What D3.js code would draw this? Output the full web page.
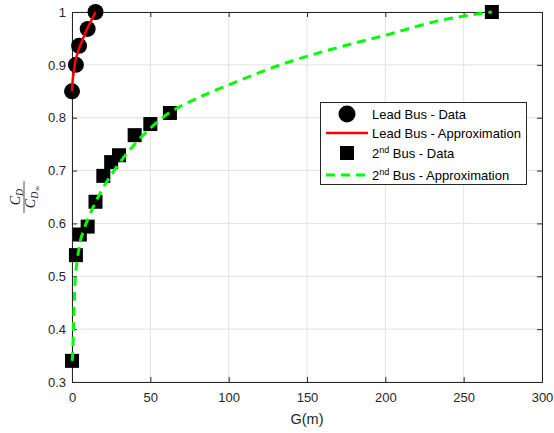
<!DOCTYPE html>
<html>
<head>
    <meta charset="utf-8">
    <style>
        body { margin: 0; background: #fff; }
        svg { font-family: "Liberation Sans", Arial, sans-serif; }
        .tick text { font-size: 13px; fill: #262626; }
        .tick line { stroke: #262626; }
        .grid line { stroke: #e3e3e3; stroke-width: 1; }
        .legend text { font-size: 13px; fill: #000; }
    </style>
</head>
<body>
<svg width="554" height="433"></svg>

<script src="https://d3js.org/d3.v7.min.js"></script>
<script>
    // lead bus, measured points
    let leadG = [0, 2.5, 4.5, 10, 15]
    let leadCd = [0.85, 0.90, 0.936, 0.968, 1.0]

    // lead bus, fitted curve
    let leadFitG = [0, 0.5, 1, 1.9, 2.5, 3.5, 5, 7.5, 9.8, 12.5, 14.5, 15]
    let leadFitCd = [0.85, 0.872, 0.884, 0.903, 0.911, 0.922, 0.935, 0.953, 0.969, 0.985, 0.997, 1.0]

    // 2nd bus, measured points
    let secG = [0, 2.5, 5, 10, 15, 20, 25, 30, 40, 50, 62.5, 268]
    let secCd = [0.34, 0.54, 0.579, 0.594, 0.641, 0.69, 0.716, 0.729, 0.767, 0.788, 0.809, 1.0]

    // 2nd bus, fitted curve
    let secFitG = [0, 0.4, 0.9, 1.9, 3.4, 5, 7.5, 10, 15, 20, 25, 30, 40, 50, 62.5, 75, 100, 133, 170, 200, 235, 268]
    let secFitCd = [0.34, 0.351, 0.398, 0.487, 0.531, 0.562, 0.588, 0.607, 0.64, 0.668, 0.692, 0.713, 0.75, 0.78, 0.81, 0.83, 0.862, 0.9, 0.933, 0.956, 0.984, 1.0]

    let xTicks = [0, 50, 100, 150, 200, 250, 300]
    let yTicks = [0.3, 0.4, 0.5, 0.6, 0.7, 0.8, 0.9, 1]

    let margin = { top: 12, right: 12, bottom: 51, left: 72 }
    let width = 554
    let height = 433

    let svg = d3.select("svg")

    let x = d3.scaleLinear()
        .domain([0, 300])
        .range([margin.left, width - margin.right])

    let y = d3.scaleLinear()
        .domain([0.3, 1])
        .range([height - margin.bottom, margin.top])

    let zip = (a, b) => a.map((v, i) => [v, b[i]])

    // grid
    let grid = svg.append("g").attr("class", "grid")
    grid.selectAll(".gx")
        .data(xTicks)
        .join("line")
        .attr("x1", d => x(d)).attr("x2", d => x(d))
        .attr("y1", y(0.3)).attr("y2", y(1))
    grid.selectAll(".gy")
        .data(yTicks)
        .join("line")
        .attr("x1", x(0)).attr("x2", x(300))
        .attr("y1", d => y(d)).attr("y2", d => y(d))

    // axes, ticks inward like matlab
    svg.append("g")
        .attr("transform", `translate(0,${y(0.3)})`)
        .call(d3.axisBottom(x).tickValues(xTicks).tickSize(-5).tickPadding(11))
        .call(g => g.select(".domain").attr("stroke", "#262626"))

    svg.append("g")
        .attr("transform", `translate(0,${y(1)})`)
        .call(d3.axisTop(x).tickValues(xTicks).tickSize(-5).tickFormat(""))
        .call(g => g.select(".domain").attr("stroke", "#262626"))

    svg.append("g")
        .attr("transform", `translate(${x(0)},0)`)
        .call(d3.axisLeft(y).tickValues(yTicks).tickSize(-5).tickPadding(6).tickFormat(d3.format("")))
        .call(g => g.select(".domain").attr("stroke", "#262626"))

    svg.append("g")
        .attr("transform", `translate(${x(300)},0)`)
        .call(d3.axisRight(y).tickValues(yTicks).tickSize(-5).tickFormat(""))
        .call(g => g.select(".domain").attr("stroke", "#262626"))

    let line = d3.line()
        .x(d => x(d[0]))
        .y(d => y(d[1]))
        .curve(d3.curveMonotoneX)

    // lead bus
    svg.append("g")
        .selectAll("circle")
        .data(zip(leadG, leadCd))
        .join("circle")
        .attr("cx", d => x(d[0]))
        .attr("cy", d => y(d[1]))
        .attr("r", 8)
        .attr("fill", "#000")

    svg.append("path")
        .datum(zip(leadFitG, leadFitCd))
        .attr("fill", "none")
        .attr("stroke", "#ff0000")
        .attr("stroke-width", 2.5)
        .attr("d", line)

    // 2nd bus
    svg.append("g")
        .selectAll("rect")
        .data(zip(secG, secCd))
        .join("rect")
        .attr("x", d => x(d[0]) - 7)
        .attr("y", d => y(d[1]) - 7)
        .attr("width", 14)
        .attr("height", 14)
        .attr("fill", "#000")

    svg.append("path")
        .datum(zip(secFitG, secFitCd))
        .attr("fill", "none")
        .attr("stroke", "#00ff00")
        .attr("stroke-width", 3)
        .attr("stroke-dasharray", "9,6")
        .attr("d", line)

    // x label
    svg.append("text")
        .attr("x", (x(0) + x(300)) / 2)
        .attr("y", 424)
        .attr("text-anchor", "middle")
        .style("font-size", "14.5px")
        .style("fill", "#262626")
        .text("G(m)")

    // y label: C_D / C_D∞
    let yl = svg.append("g")
        .attr("transform", "translate(24,197) rotate(-90)")
        .style("font-family", "'Liberation Serif', 'DejaVu Serif', serif")
        .style("font-style", "italic")
        .style("fill", "#262626")

    let num = yl.append("text").attr("x", 0).attr("y", -4).attr("text-anchor", "middle").style("font-size", "14px")
    num.append("tspan").text("C")
    num.append("tspan").attr("dy", 3).style("font-size", "10px").text("D")

    yl.append("line")
        .attr("x1", -16).attr("x2", 16)
        .attr("y1", 0).attr("y2", 0)
        .attr("stroke", "#262626").attr("stroke-width", 0.8)

    let den = yl.append("text").attr("x", 0).attr("y", 11).attr("text-anchor", "middle").style("font-size", "14px")
    den.append("tspan").text("C")
    den.append("tspan").attr("dy", 3).style("font-size", "10px").text("D")
    den.append("tspan").attr("dy", 2).style("font-size", "8px").style("font-style", "normal").text("\u221E")

    // legend
    let lg = svg.append("g").attr("class", "legend")
    lg.append("rect")
        .attr("x", 320.5).attr("y", 102.5)
        .attr("width", 206).attr("height", 82)
        .attr("fill", "#fff")
        .attr("stroke", "#262626")
        .attr("stroke-width", 1)

    let rows = [114, 133, 153, 175]
    lg.append("circle").attr("cx", 347).attr("cy", rows[0]).attr("r", 8.5).attr("fill", "#000")
    lg.append("line").attr("x1", 326).attr("x2", 368).attr("y1", rows[1]).attr("y2", rows[1])
        .attr("stroke", "#ff0000").attr("stroke-width", 2.5)
    lg.append("rect").attr("x", 340).attr("y", rows[2] - 7).attr("width", 14).attr("height", 14).attr("fill", "#000")
    lg.append("line").attr("x1", 326).attr("x2", 368).attr("y1", rows[3]).attr("y2", rows[3])
        .attr("stroke", "#00ff00").attr("stroke-width", 3).attr("stroke-dasharray", "9,6")

    let tx = 372
    lg.append("text").attr("x", tx).attr("y", rows[0] + 4.5).text("Lead Bus - Data")
    lg.append("text").attr("x", tx).attr("y", rows[1] + 4.5).text("Lead Bus - Approximation")

    let t3 = lg.append("text").attr("x", tx).attr("y", rows[2] + 4.5)
    t3.append("tspan").text("2")
    t3.append("tspan").attr("dy", -5).style("font-size", "9px").text("nd")
    t3.append("tspan").attr("dy", 5).text(" Bus - Data")

    let t4 = lg.append("text").attr("x", tx).attr("y", rows[3] + 4.5)
    t4.append("tspan").text("2")
    t4.append("tspan").attr("dy", -5).style("font-size", "9px").text("nd")
    t4.append("tspan").attr("dy", 5).text(" Bus - Approximation")
</script>
</body>
</html>
